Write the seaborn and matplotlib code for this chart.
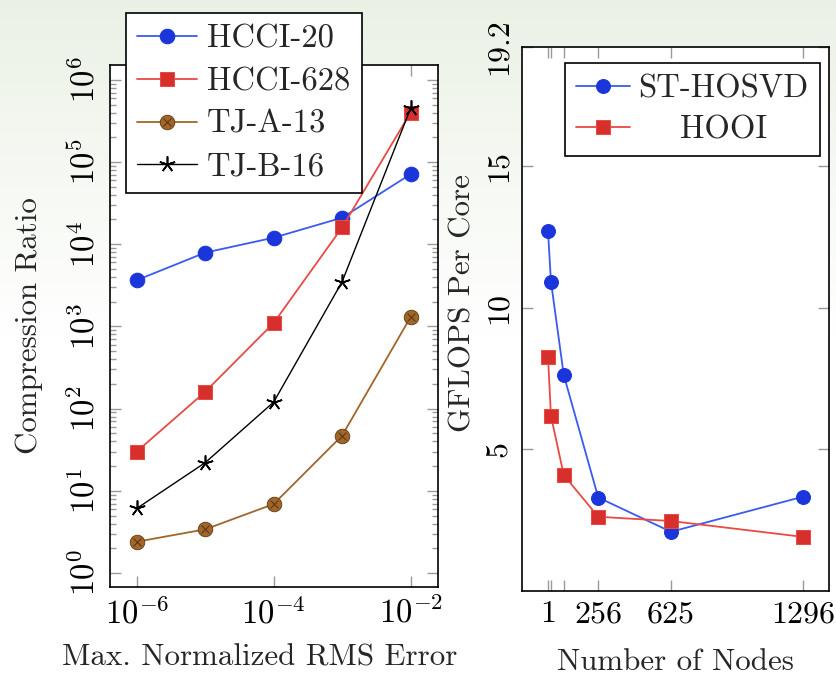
import numpy as np
import pandas as pd
import matplotlib
matplotlib.use("Agg")
import matplotlib.pyplot as plt
import seaborn as sns
from matplotlib.lines import Line2D
from matplotlib.legend_handler import HandlerTuple
from matplotlib.ticker import NullFormatter, FixedLocator, LogFormatterSciNotation

# ---------------- data ----------------
rms_error = [1e-6, 1e-5, 1e-4, 1e-3, 1e-2]
hcci_20 = [3650, 7900, 12000, 21000, 71000]
hcci_628 = [30, 160, 1100, 16000, 400000]
tj_a_13 = [2.4, 3.4, 6.9, 47, 1300]
tj_b_16 = [6.1, 22, 120, 3500, 450000]
error_ticks = [1e-6, 1e-4, 1e-2]
ratio_ticks = [1e0, 1e1, 1e2, 1e3, 1e4, 1e5, 1e6]

nodes = [1, 16, 81, 256, 625, 1296]
node_tick_labels = ["1", "", "", "256", "625", "1296"]
st_hosvd = [12.70, 10.92, 7.62, 3.30, 2.09, 3.33]
hooi = [8.26, 6.18, 4.09, 2.62, 2.47, 1.91]
gflops_ticks = [5, 10, 15, 19.2]
gflops_tick_labels = ["5", "10", "15", "19.2"]

# ---------------- style ----------------
sns.set_theme(style="ticks")
plt.rcParams.update({
    "font.family": ["cmr10", "DejaVu Serif"],
    "mathtext.fontset": "cm",
    "axes.formatter.use_mathtext": True,
    "axes.unicode_minus": False,
    "font.size": 23,
    "axes.linewidth": 1.2,
    "axes.edgecolor": "black",
    "xtick.color": "#9a9a9a",
    "ytick.color": "#9a9a9a",
    "xtick.labelcolor": "black",
    "ytick.labelcolor": "black",
})

BLUE = "#1a35d9"
BLUE_L = "#3a5af0"
RED = "#d7302c"
RED_L = "#e84a45"
BROWN = "#a0662a"
BROWN_D = "#5e3812"

W, H = 837, 677
fig = plt.figure(figsize=(W / 100, H / 100), dpi=100)

# background gradient (slide background), drawn as a figure image
t = np.linspace(0, 1, H)[:, None]
fade = np.clip(t / 0.5, 0, 1) ** 0.9
top = np.array([0.918, 0.945, 0.895])
grad = top[None, None, :] * (1 - fade[..., None]) + np.ones(3)[None, None, :] * fade[..., None]
grad = np.repeat(grad, W, axis=1)
fig.figimage(grad, xo=0, yo=0, origin="upper", zorder=-10)

def frac(x0, y0, x1, y1):
    return [x0 / W, 1 - y1 / H, (x1 - x0) / W, (y1 - y0) / H]

ax1 = fig.add_axes(frac(110, 65, 438, 587))
ax2 = fig.add_axes(frac(522, 47, 829, 591))
for a in (ax1, ax2):
    a.set_facecolor("white")

# ---------------- left plot ----------------
ax1.set_xscale("log")
ax1.set_yscale("log")
lw = 1.3
ms = 10.5
sns.lineplot(x=rms_error, y=hcci_20, ax=ax1, color=BLUE_L, lw=lw, marker="o",
             markersize=ms, markerfacecolor=BLUE, markeredgecolor=BLUE,
             label="HCCI-20", legend=False)
sns.lineplot(x=rms_error, y=hcci_628, ax=ax1, color=RED_L, lw=lw, marker="s",
             markersize=ms - 0.5, markerfacecolor=RED, markeredgecolor=RED_L,
             label="HCCI-628", legend=False)
sns.lineplot(x=rms_error, y=tj_a_13, ax=ax1, color=BROWN, lw=lw, marker="o",
             markersize=ms, markerfacecolor=BROWN, markeredgecolor=BROWN_D,
             markeredgewidth=0.6, label="TJ-A-13", legend=False)
sns.scatterplot(x=rms_error, y=tj_a_13, ax=ax1, marker="x", s=32, color=BROWN_D,
                linewidth=0.8, legend=False, zorder=5)
sns.lineplot(x=rms_error, y=tj_b_16, ax=ax1, color="black", lw=1.0, marker=(5, 2, 0),
             markersize=11.5, markeredgewidth=1.2, markeredgecolor="black",
             label="TJ-B-16", legend=False)

ax1.set_xlim(10 ** -6.39, 10 ** -1.6)
ax1.set_ylim(10 ** -0.17, 10 ** 6.18)
ax1.xaxis.set_major_locator(FixedLocator(error_ticks))
ax1.xaxis.set_minor_locator(FixedLocator([]))
ax1.xaxis.set_major_formatter(LogFormatterSciNotation())
ax1.yaxis.set_major_locator(FixedLocator(ratio_ticks))
ax1.yaxis.set_major_formatter(LogFormatterSciNotation())
minor_y = [m * d for d in ratio_ticks[:-1] for m in range(2, 10)]
minor_y += [m * 1e6 for m in (2, 3, 4, 5, 6, 7, 8, 9) if m * 1e6 <= 10 ** 6.18]
minor_y = [v for v in minor_y if v >= 10 ** -0.17]
ax1.yaxis.set_minor_locator(FixedLocator(minor_y))
ax1.yaxis.set_minor_formatter(NullFormatter())
ax1.tick_params(which="both", direction="in", top=True, right=True, width=1.0)
ax1.tick_params(which="major", length=8, pad=7, labelsize=23.5)
ax1.tick_params(which="minor", length=4.5)
ax1.tick_params(axis="y", labelrotation=90)
for lab in ax1.get_yticklabels():
    lab.set_va("center")

ax1.set_xlabel("Max. Normalized RMS Error", fontsize=22.3)
ax1.set_ylabel("Compression Ratio", fontsize=22.3)
ax1.xaxis.set_label_coords(0.457, -0.108)
ax1.yaxis.set_label_coords(-0.205, 0.5)

h, l = ax1.get_legend_handles_labels()
h = list(h)
cross = Line2D([], [], marker="x", ls="none", color=BROWN_D, markersize=5.5, markeredgewidth=0.8)
idx = l.index("TJ-A-13")
h[idx] = (h[idx], cross)
leg1 = ax1.legend(h, l, loc="upper right", bbox_to_anchor=(0.768, 1.0996), borderaxespad=0,
                  fontsize=23.5, frameon=True, fancybox=False, edgecolor="black",
                  framealpha=1, handlelength=1.85, handletextpad=0.3, labelspacing=0.42,
                  borderpad=0.35, handler_map={tuple: HandlerTuple(ndivide=1)})
leg1.get_frame().set_linewidth(1.2)
leg1.set_zorder(20)

# ---------------- right plot ----------------
sns.lineplot(x=nodes, y=st_hosvd, ax=ax2, color=BLUE_L, lw=lw, marker="o",
             markersize=ms - 0.5, markerfacecolor=BLUE, markeredgecolor=BLUE,
             label="ST-HOSVD", legend=False)
sns.lineplot(x=nodes, y=hooi, ax=ax2, color=RED_L, lw=lw, marker="s",
             markersize=ms - 1, markerfacecolor=RED, markeredgecolor=RED_L,
             label="HOOI", legend=False)
ax2.set_xlim(-131, 1427)
ax2.set_ylim(0, 19.2)
ax2.set_xticks(nodes)
ax2.set_xticklabels(node_tick_labels)
ax2.set_yticks(gflops_ticks)
ax2.set_yticklabels(gflops_tick_labels)
ax2.tick_params(which="both", direction="in", top=True, right=True, width=1.0)
ax2.tick_params(which="major", length=8, pad=7, labelsize=23)
ax2.tick_params(axis="y", labelrotation=90)
for lab in ax2.get_yticklabels():
    lab.set_va("center")
ax2.set_xlabel("Number of Nodes", fontsize=22.3)
ax2.set_ylabel("GFLOPS Per Core", fontsize=22.3)
ax2.xaxis.set_label_coords(0.5, -0.105)
ax2.yaxis.set_label_coords(-0.147, 0.53)

leg2 = ax2.legend(loc="upper right", bbox_to_anchor=(0.9707, 0.9706), borderaxespad=0,
                  fontsize=23.5, frameon=True, fancybox=False, edgecolor="black",
                  framealpha=1, handlelength=1.65, handletextpad=0.25, labelspacing=0.38,
                  borderpad=0.35)
leg2.get_frame().set_linewidth(1.2)

# center the legend texts of the right plot like the original
fig.canvas.draw()
r = fig.canvas.get_renderer()
texts = leg2.get_texts()
widths = [tx.get_window_extent(r).width for tx in texts]
wmax = max(widths)
for tx, w in zip(texts, widths):
    tx.set_position(((wmax - w) / 2, 0))

fig.savefig("out.png", dpi=100)
